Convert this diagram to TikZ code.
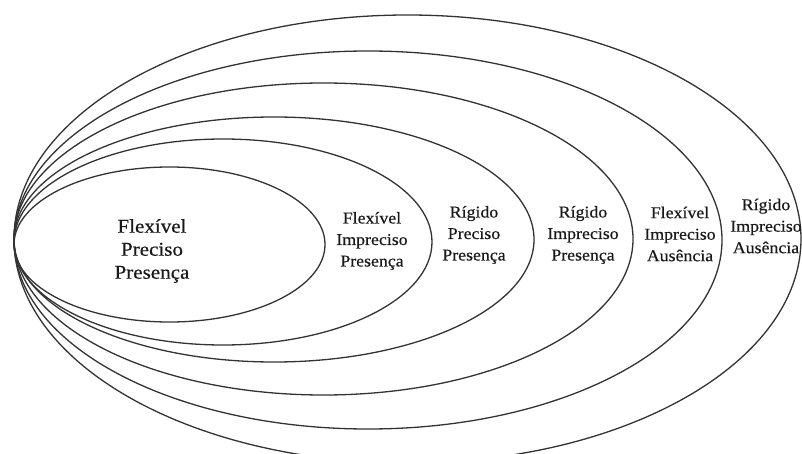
\documentclass[tikz,border=0pt]{standalone}
\usepackage{fontspec}
\setmainfont{Liberation Serif}[FakeStretch=1.08,FakeBold=0.4]
\begin{document}
\begin{tikzpicture}[x=1pt,y=-1pt,
  ring/.style={draw=black!80,line width=1.3pt},
  biglabel/.style={align=center,text=black!90,inner sep=0pt,font=\fontsize{19.5}{23}\selectfont},
  smalllabel/.style={align=center,text=black!90,inner sep=0pt,font=\fontsize{16.5}{21.5}\selectfont}]
\useasboundingbox (0,0) rectangle (802,454);
\clip (0,0) rectangle (802,454);
\fill[white] (0,0) rectangle (802,454);
% nested ellipses, all touching at the left
\draw[ring] (169.5,244.5) ellipse [x radius=155.5pt, y radius=77.5pt];
\draw[ring] (223,242) ellipse [x radius=209pt, y radius=103pt];
\draw[ring] (274,239.5) ellipse [x radius=260pt, y radius=122.5pt];
\draw[ring] (323.5,239) ellipse [x radius=309.5pt, y radius=156pt];
\draw[ring] (368,240) ellipse [x radius=354pt, y radius=189pt];
\draw[ring] (407.5,239) ellipse [x radius=393.5pt, y radius=224pt];
% labels
\node[biglabel] (l1) at (152,251) {Flexível\\Preciso\\Presença};
\node[smalllabel] (l2) at (372,241) {Flexível\\Impreciso\\Presença};
\node[smalllabel] (l3) at (474,235) {Rígido\\Preciso\\Presença};
\node[smalllabel] (l4) at (583,235) {Rígido\\Impreciso\\Presença};
\node[smalllabel] (l5) at (680,234) {Flexível\\Impreciso\\Ausência};
\node[smalllabel] (l6) at (766,226) {Rígido\\Impreciso\\Ausência};
\end{tikzpicture}
\end{document}
